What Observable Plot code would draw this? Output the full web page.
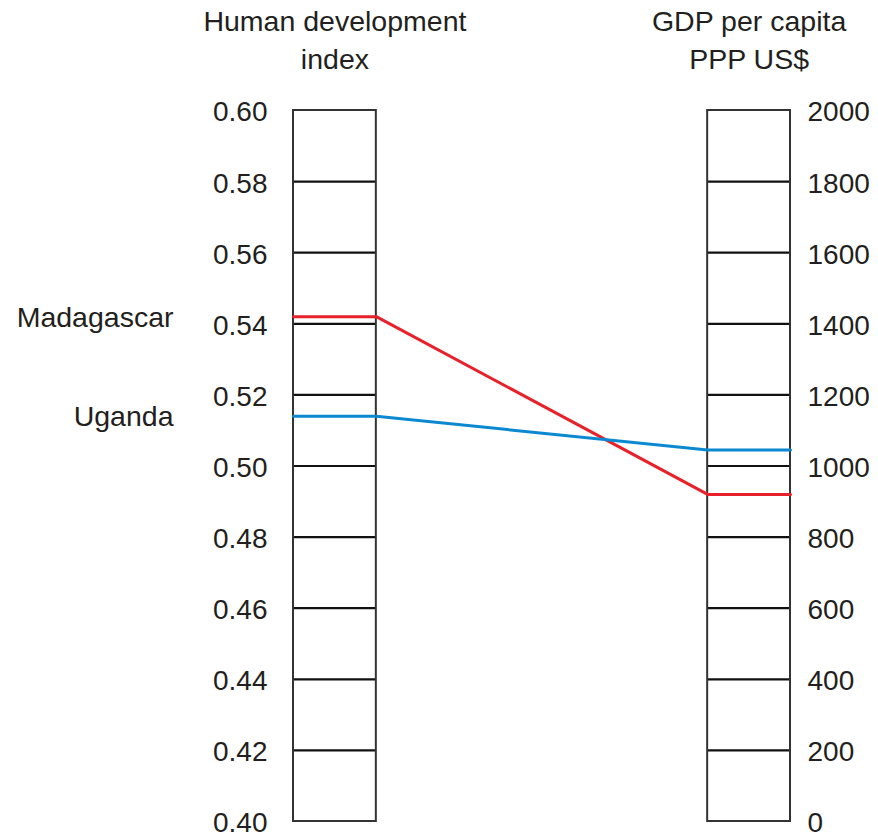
<!DOCTYPE html>
<html>
<head>
<meta charset="utf-8">
<script src="https://cdn.jsdelivr.net/npm/d3@7"></script>
<script src="https://cdn.jsdelivr.net/npm/@observablehq/plot@0.6"></script>
<style>
  html, body { margin: 0; padding: 0; background: #fff; }
  #chart svg { display: block; }
</style>
</head>
<body>
<div id="chart"></div>
<script>
// ---- data ----
const countries = ["Madagascar", "Uganda"];
const hdiValues = [0.542, 0.514];
const gdpValues = [920, 1045];
const countryColors = ["#e8202a", "#0a88d0"];

const hdiTicks = [0.40, 0.42, 0.44, 0.46, 0.48, 0.50, 0.52, 0.54, 0.56, 0.58, 0.60];
const gdpTicks = [0, 200, 400, 600, 800, 1000, 1200, 1400, 1600, 1800, 2000];
const hdiTitle = "Human development\nindex";
const gdpTitle = "GDP per capita\nPPP US$";

// map GDP values onto the shared vertical scale (0–2000 ↔ 0.40–0.60)
const gdpToY = v => 0.40 + (v / 2000) * 0.20;

// column positions on the x scale
const leftCol = {x1: 0, x2: 1};
const rightCol = {x1: 5, x2: 6};

const linePoints = countries.flatMap((c, i) => [
  {country: c, x: leftCol.x1, y: hdiValues[i]},
  {country: c, x: leftCol.x2, y: hdiValues[i]},
  {country: c, x: rightCol.x1, y: gdpToY(gdpValues[i])},
  {country: c, x: rightCol.x2, y: gdpToY(gdpValues[i])}
]);

const inner = arr => arr.slice(1, -1);
const font = "'Liberation Sans', Arial, Helvetica, sans-serif";

const chart = Plot.plot({
  width: 878,
  height: 839,
  marginLeft: 293,
  marginRight: 88,
  marginTop: 110,
  marginBottom: 18,
  style: {fontFamily: font, color: "#231f20", background: "#fff", overflow: "visible"},
  x: {domain: [0, 6], axis: null},
  y: {domain: [0.40, 0.60], axis: null},
  color: {domain: countries, range: countryColors},
  marks: [
    // tick rules inside the columns
    Plot.ruleY(inner(hdiTicks), {x1: leftCol.x1, x2: leftCol.x2, stroke: "#111", strokeWidth: 2.2}),
    Plot.ruleY(inner(gdpTicks).map(gdpToY), {x1: rightCol.x1, x2: rightCol.x2, stroke: "#111", strokeWidth: 2.2}),
    // column frames
    Plot.rect([leftCol, rightCol], {x1: "x1", x2: "x2", y1: 0.40, y2: 0.60, fill: "none", stroke: "#333", strokeWidth: 2}),
    // left axis labels
    Plot.axisY(hdiTicks, {anchor: "left", label: null, tickSize: 0, tickPadding: 26, tickFormat: d3.format(".2f"), fontSize: 28, dy: 2}),
    // right axis labels
    Plot.text(gdpTicks, {x: rightCol.x2, y: d => gdpToY(d), text: d => String(d), dx: 17, dy: 2, textAnchor: "start", fontSize: 28}),
    // titles
    Plot.text([hdiTitle], {x: (leftCol.x1 + leftCol.x2) / 2, y: 0.60, text: d => d, lineAnchor: "bottom", lineHeight: 1.32, dy: -42, fontSize: 28.5}),
    Plot.text([gdpTitle], {x: (rightCol.x1 + rightCol.x2) / 2, y: 0.60, text: d => d, lineAnchor: "bottom", lineHeight: 1.32, dy: -42, fontSize: 28.5}),
    // country labels
    Plot.text(countries, {x: leftCol.x1, y: (d, i) => hdiValues[i], text: d => d, dx: -120, dy: 1, textAnchor: "end", fontSize: 28.5}),
    // country lines
    Plot.line(linePoints, {x: "x", y: "y", z: "country", stroke: "country", strokeWidth: 3, strokeLinejoin: "miter"})
  ]
});

document.getElementById("chart").appendChild(chart);
</script>
</body>
</html>
